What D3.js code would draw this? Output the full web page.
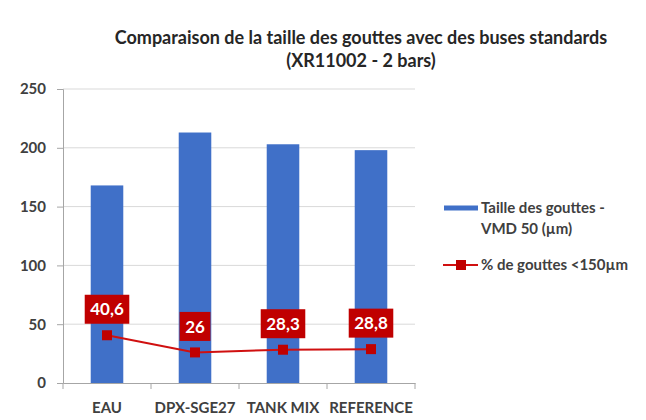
<!DOCTYPE html>
<html lang="fr">
  <head>
    <meta charset="utf-8">
    <title>Taille des gouttes</title>
    <script src="https://d3js.org/d3.v7.min.js"></script>
    <style media="screen">
      body { margin: 0; background: #fff; }
      text { font-family: Lato, "Open Sans", sans-serif; fill: #404040; }
      .title { font-size: 18px; font-weight: bold; fill: #262626; }
      .tick text { font-size: 15px; font-weight: bold; fill: #404040; }
      .grid line { stroke: #d9d9d9; stroke-width: 1px; }
      .bar { fill: #4070c8; }
      .pct { fill: none; stroke: #d01010; stroke-width: 2px; }
      .pt { fill: #c00000; }
      .lbl-box { fill: #c00000; }
      .lbl { fill: #fff; font-size: 17px; font-weight: bold; }
      .legend text { font-size: 15px; font-weight: bold; fill: #404040; }
    </style>
  </head>
  <body>
    <svg id="chart" width="646" height="420" xmlns="http://www.w3.org/2000/svg"></svg>
    <script>
      // data
      const categories = ['EAU', 'DPX-SGE27', 'TANK MIX', 'REFERENCE'];
      const vmd = [168, 213, 203, 198];
      const pctFines = [40.6, 26, 28.3, 28.8];
      const pctLabels = ['40,6', '26', '28,3', '28,8'];
      const yTicks = [0, 50, 100, 150, 200, 250];
      const titleLines = ['Comparaison de la taille des gouttes avec des buses standards', '(XR11002 - 2 bars)'];
      const legendLabels = [['Taille des gouttes -', 'VMD 50 (µm)'], ['% de gouttes <150µm']];

      const svg = d3.select('#chart');
      const plotLeft = 63, plotRight = 415, plotTop = 89, plotBottom = 383;

      let x = d3.scaleBand()
        .domain(categories)
        .range([plotLeft, plotRight])
        .paddingInner(0.63)
        .paddingOuter(0.315);
      let xBand = d3.scaleBand().domain(categories).range([plotLeft, plotRight]);
      let y = d3.scaleLinear()
        .domain([0, 250])
        .range([plotBottom, plotTop]);

      // title
      svg.selectAll('text.title')
        .data(titleLines)
        .join('text')
        .attr('class', 'title')
        .attr('x', 361)
        .attr('y', function(d, i) { return 44 + i * 23; })
        .attr('text-anchor', 'middle')
        .text(function(d) { return d; });

      // gridlines
      svg.append('g')
        .attr('class', 'grid')
        .selectAll('line')
        .data(yTicks.slice(1))
        .join('line')
        .attr('x1', plotLeft).attr('x2', plotRight)
        .attr('y1', function(d) { return y(d); })
        .attr('y2', function(d) { return y(d); });

      // y axis
      let yAxis = svg.append('g')
        .attr('transform', 'translate(' + plotLeft + ',0)')
        .call(d3.axisLeft(y).tickValues(yTicks).tickSize(6).tickPadding(11));
      yAxis.selectAll('line, path').attr('stroke', '#a6a6a6');

      // bars
      svg.selectAll('rect.bar')
        .data(vmd)
        .join('rect')
        .attr('class', 'bar')
        .attr('x', function(d, i) { return x(categories[i]); })
        .attr('width', x.bandwidth())
        .attr('y', function(d) { return y(d); })
        .attr('height', function(d) { return y(0) - y(d); });

      // x axis
      let xAxis = svg.append('g')
        .attr('transform', 'translate(0,' + plotBottom + ')')
        .call(d3.axisBottom(xBand).tickSize(0).tickPadding(19));
      xAxis.select('path').attr('stroke', '#a6a6a6');
      xAxis.selectAll('.boundary')
        .data(d3.range(categories.length + 1))
        .join('line')
        .attr('class', 'boundary')
        .attr('x1', function(d) { return plotLeft + d * xBand.step(); })
        .attr('x2', function(d) { return plotLeft + d * xBand.step(); })
        .attr('y1', 0).attr('y2', 6)
        .attr('stroke', '#a6a6a6');

      // percentage line
      let cx = function(d, i) { return xBand(categories[i]) + xBand.bandwidth() / 2; };
      svg.append('path')
        .datum(pctFines)
        .attr('class', 'pct')
        .attr('d', d3.line().x(cx).y(function(d) { return y(d); }));
      svg.selectAll('rect.pt')
        .data(pctFines)
        .join('rect')
        .attr('class', 'pt')
        .attr('x', function(d, i) { return cx(d, i) - 5; })
        .attr('y', function(d) { return y(d) - 5; })
        .attr('width', 10).attr('height', 10);

      // data labels
      let lbl = svg.selectAll('g.dl')
        .data(pctFines)
        .join('g')
        .attr('class', 'dl')
        .attr('transform', function(d, i) { return 'translate(' + cx(d, i) + ',' + (y(d) - 26) + ')'; });
      lbl.append('rect').attr('class', 'lbl-box');
      lbl.append('text')
        .attr('class', 'lbl')
        .attr('text-anchor', 'middle')
        .attr('dy', '0.36em')
        .text(function(d, i) { return pctLabels[i]; });
      lbl.each(function() {
        let g = d3.select(this);
        let w = g.select('text').node().getComputedTextLength() + 11;
        g.select('rect')
          .attr('x', -w / 2).attr('y', -14.5)
          .attr('width', w).attr('height', 29);
      });

      // legend
      let legend = svg.append('g').attr('class', 'legend');
      legend.append('line')
        .attr('x1', 444).attr('x2', 478).attr('y1', 208).attr('y2', 208)
        .attr('stroke', '#4070c8').attr('stroke-width', 5);
      legend.append('text')
        .attr('x', 481).attr('y', 213)
        .selectAll('tspan')
        .data(legendLabels[0])
        .join('tspan')
        .attr('x', 481)
        .attr('dy', function(d, i) { return i ? 21 : 0; })
        .text(function(d) { return d; });
      legend.append('line')
        .attr('x1', 443).attr('x2', 478).attr('y1', 265).attr('y2', 265)
        .attr('stroke', '#d01010').attr('stroke-width', 2);
      legend.append('rect')
        .attr('x', 456).attr('y', 260).attr('width', 10).attr('height', 10)
        .attr('fill', '#c00000');
      legend.append('text')
        .attr('x', 481).attr('y', 270)
        .text(legendLabels[1][0]);
    </script>
  </body>
</html>
